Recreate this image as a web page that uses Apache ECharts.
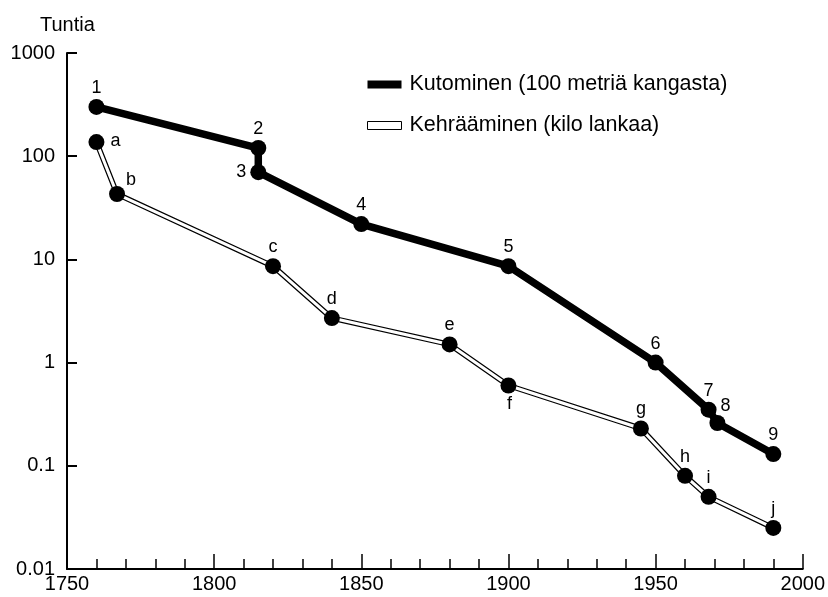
<!DOCTYPE html>
<html>
<head>
<meta charset="utf-8">
<script src="https://cdn.jsdelivr.net/npm/echarts@6/dist/echarts.min.js"></script>
<style>
  html, body { margin: 0; padding: 0; background: #fff; }
  #chart { width: 828px; height: 597px; }
</style>
</head>
<body>
<div id="chart"></div>
<script>
// Kutominen: tunteja 100 metrin kangasta kohden
const kutominenVuodet = [1760, 1815, 1815, 1850, 1900, 1950, 1968, 1971, 1990];
const kutominenTunnit = [300, 120, 70, 22, 8.6, 1.0, 0.35, 0.26, 0.13];
const kutominenTunnukset = ['1', '2', '3', '4', '5', '6', '7', '8', '9'];

// Kehrääminen: tunteja lankakiloa kohden
const kehraysVuodet = [1760, 1767, 1820, 1840, 1880, 1900, 1945, 1960, 1968, 1990];
const kehraysTunnit = [137, 43, 8.6, 2.7, 1.5, 0.6, 0.23, 0.08, 0.05, 0.025];
const kehraysTunnukset = ['a', 'b', 'c', 'd', 'e', 'f', 'g', 'h', 'i', 'j'];

const xTikit = [1750, 1800, 1850, 1900, 1950, 2000];
const yTikit = [0.01, 0.1, 1, 10, 100, 1000];

const nimiKutominen = 'Kutominen (100 metriä kangasta)';
const nimiKehrays = 'Kehrääminen (kilo lankaa)';

const FONT = '"Liberation Sans", Arial, Helvetica, sans-serif';

// Label placement relative to the dot centre (default: above the dot)
const labelSiirto = {
  '3': [-17, 0],
  '8': [8, -17],
  'a': [19, -1],
  'b': [14, -14],
  'f': [1, 19]
};
const oletusSiirto = [0, -19];

function pisteet(vuodet, arvot, tunnukset) {
  return vuodet.map((v, i) => ({
    value: [v, arvot[i]],
    label: {
      show: true,
      formatter: tunnukset[i],
      position: 'inside',
      offset: labelSiirto[tunnukset[i]] || oletusSiirto,
      color: '#000',
      fontSize: 18,
      fontWeight: 'normal',
      fontFamily: FONT,
      textBorderWidth: 0,
      textBorderColor: 'transparent'
    }
  }));
}

function viiva(vuodet, arvot) {
  return vuodet.map((v, i) => [v, arvot[i]]);
}

const chart = echarts.init(document.getElementById('chart'), null, { renderer: 'canvas' });

chart.setOption({
  animation: false,
  backgroundColor: '#fff',
  textStyle: { fontFamily: FONT, color: '#000' },
  title: {
    text: 'Tuntia',
    left: 35,
    top: 10,
    textStyle: { fontSize: 20, fontWeight: 'normal', color: '#000', fontFamily: FONT }
  },
  legend: {
    orient: 'vertical',
    left: 362,
    top: 67,
    itemWidth: 34,
    itemHeight: 8,
    itemGap: 16,
    selectedMode: false,
    textStyle: { fontSize: 21.5, color: '#000', fontFamily: FONT, lineHeight: 25, padding: [0, 0, 0, 3] },
    data: [
      { name: nimiKutominen, icon: 'rect', itemStyle: { color: '#000', borderWidth: 0 } },
      { name: nimiKehrays, icon: 'rect', itemStyle: { color: '#fff', borderColor: '#000', borderWidth: 1 } }
    ]
  },
  grid: { left: 67, right: 23, top: 53, bottom: 28, containLabel: false },
  xAxis: {
    type: 'value',
    min: xTikit[0],
    max: xTikit[xTikit.length - 1],
    interval: 50,
    splitLine: { show: false },
    axisLine: { show: true, lineStyle: { color: '#000', width: 2 } },
    axisTick: { show: true, inside: true, length: 15, lineStyle: { color: '#000', width: 1.5 } },
    minorTick: { show: true, splitNumber: 5, length: 10, lineStyle: { color: '#000', width: 1.5 } },
    axisLabel: { fontSize: 20, color: '#000', margin: 5, fontFamily: FONT, formatter: v => String(v) }
  },
  yAxis: {
    type: 'log',
    logBase: 10,
    min: yTikit[0],
    max: yTikit[yTikit.length - 1],
    splitNumber: 5,
    splitLine: { show: false },
    axisLine: { show: true, lineStyle: { color: '#000', width: 2 } },
    axisTick: { show: true, inside: true, length: 10, lineStyle: { color: '#000', width: 2 } },
    axisLabel: {
      fontSize: 20, color: '#000', margin: 12, fontFamily: FONT,
      formatter: v => {
        const k = yTikit.find(t => Math.abs(Math.log10(t) - Math.log10(v)) < 1e-6);
        return k !== undefined ? String(k) : '';
      }
    }
  },
  series: [
    // double line: black outline under a white core
    {
      name: nimiKehrays, type: 'line', z: 1,
      data: viiva(kehraysVuodet, kehraysTunnit),
      symbol: 'none', lineStyle: { color: '#000', width: 5.5 }, itemStyle: { color: '#000' }
    },
    {
      name: nimiKehrays, type: 'line', z: 1,
      data: viiva(kehraysVuodet, kehraysTunnit),
      symbol: 'none', lineStyle: { color: '#fff', width: 3 }, itemStyle: { color: '#fff' }
    },
    {
      name: nimiKehrays, type: 'scatter', z: 2,
      data: pisteet(kehraysVuodet, kehraysTunnit, kehraysTunnukset),
      symbol: 'circle', symbolSize: 16, itemStyle: { color: '#000', opacity: 1 }
    },
    {
      name: nimiKutominen, type: 'line', z: 3,
      data: pisteet(kutominenVuodet, kutominenTunnit, kutominenTunnukset),
      symbol: 'circle', symbolSize: 16, showAllSymbol: true,
      lineStyle: { color: '#000', width: 7.5 }, itemStyle: { color: '#000', opacity: 1 }
    }
  ]
});
</script>
</body>
</html>
